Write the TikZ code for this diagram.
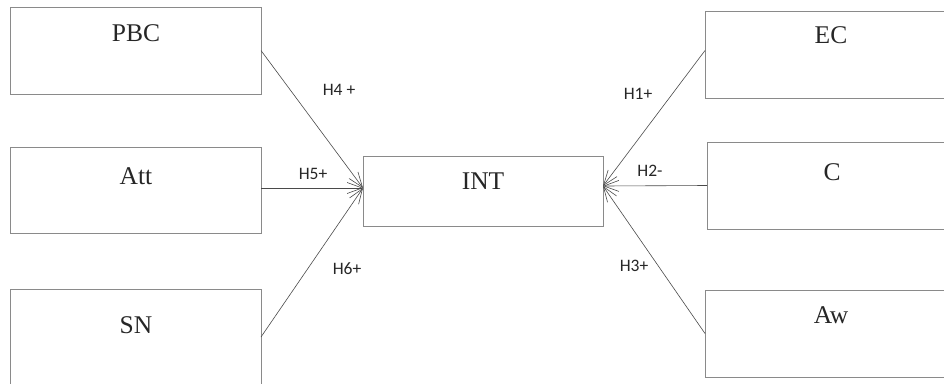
\documentclass[tikz,border=0pt]{standalone}
\usepackage{fontspec}
\setmainfont{Liberation Serif}
\newfontfamily\labfont{Carlito}
\usetikzlibrary{arrows.meta}
\definecolor{boxgray}{HTML}{8A8A8A}
\definecolor{arrgray}{HTML}{4A4A4A}
\tikzset{
  box/.style={draw=boxgray, line width=0.9pt, rectangle, inner sep=0pt, outer sep=0pt, anchor=north west},
  boxtext/.style={font=\fontsize{25.5}{25.5}\selectfont, text=black!85, anchor=base, inner sep=0pt},
  hyp/.style={font=\labfont\fontsize{17.5}{17.5}\selectfont, text=black!85, anchor=base, inner sep=0pt},
  conn/.style={draw=arrgray, line width=0.6pt, -{Straight Barb[length=15pt,width=11pt,line width=0.6pt]}}
}
\begin{document}
\begin{tikzpicture}[x=1pt,y=-1pt]
\useasboundingbox (0,0) rectangle (944,383);
\clip (0,0) rectangle (944,383);
% left boxes
\node[box, minimum width=251, minimum height=87] (pbc) at (10,7) {};
\node[box, minimum width=251, minimum height=86] (att) at (10,147) {};
\node[box, minimum width=251, minimum height=96] (sn) at (10,289) {};
% centre
\node[box, minimum width=240, minimum height=70] (int) at (363,156) {};
% right boxes
\node[box, minimum width=275, minimum height=87] (ec) at (705,11) {};
\node[box, minimum width=273, minimum height=87] (c) at (707,142) {};
\node[box, minimum width=275, minimum height=87] (aw) at (705,290) {};
% box texts
\node[boxtext] (tpbc) at (136,41) {PBC};
\node[boxtext] (tatt) at (136,184) {Att};
\node[boxtext] (tsn) at (136,333) {SN};
\node[boxtext] (tint) at (483,189) {INT};
\node[boxtext] (tec) at (831,43) {EC};
\node[boxtext] (tc) at (832,180) {C};
\node[boxtext] (taw) at (831,323) {Aw};
% end points
\coordinate (inl) at ([yshift=3pt]int.west);
\coordinate (inr) at ([yshift=5pt]int.east);
\coordinate (ecw) at ([yshift=4pt]ec.west);
\coordinate (atte) at ([yshift=2pt]att.east);
% connectors
\draw[conn] (pbc.east) -- (inl);
\draw[conn] (atte) -- (inl);
\draw[conn] (sn.east) -- (inl);
\draw[conn] (ecw) -- (inr);
\draw[conn] (c.west) -- (inr);
\draw[conn] (aw.west) -- (inr);
% labels
\node[hyp] (h4) at (339,95) {H4 +};
\node[hyp] (h5) at (313,179) {H5+};
\node[hyp] (h6) at (347,274) {H6+};
\node[hyp] (h1) at (638,99) {H1+};
\node[hyp] (h2) at (650,176) {H2-};
\node[hyp] (h3) at (634,271) {H3+};
\end{tikzpicture}
\end{document}
